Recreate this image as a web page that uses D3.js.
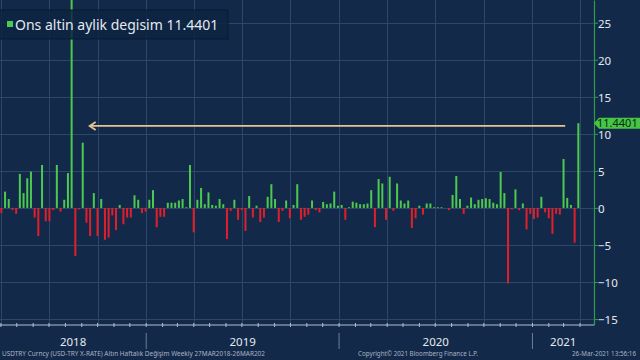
<!DOCTYPE html>
<html><head><meta charset="utf-8">
<script src="https://cdn.jsdelivr.net/npm/d3@7"></script>
<style>html,body{margin:0;padding:0;background:#13294a;} svg{display:block;}</style>
</head><body><svg id="c" width="640" height="360"></svg>
<script>
// ---- data ----
const seriesName = "Ons altin aylik degisim";
const lastValue = 11.4401;
const firstWeek = "2018-03-30";
const weeklyChange = [
 -0.7, 2.2, 1.2, -0.3, -0.8, 4.6, 2.0, 4.0, 4.9, -1.3,
 -3.8, 5.8, -1.8, -1.8, -0.3, 5.8, -0.5, 1.1, 4.7, 28.2,
 -6.5, -0.2, 8.8, -2.0, -3.8, 2.0, -3.8, 1.2, -4.3, -4.0,
 -1.0, -3.0, 0.4, -2.2, -1.3, -1.3, 1.7, 1.1, -0.7, -0.5,
 1.1, 2.4, -2.6, -1.2, -1.2, 0.7, 0.7, 0.7, 1.0, 1.2,
 0.1, 5.8, -3.3, 1.1, 2.7, 0.5, 2.1, 0.4, 0.3, 1.2,
 0.5, -4.2, -0.4, 1.1, -1.6, -0.3, -3.1, 1.6, -1.3, 0.3,
 -1.9, -1.3, 1.5, 3.2, 1.2, -1.9, -0.4, 1.0, -1.4, 0.4,
 3.2, -1.6, -1.2, -0.9, 1.0, -0.3, -0.6, 0.8, 0.5, 0.6,
 2.2, 0.3, 0.4, -1.6, 0.1, 0.85, 0.7, 0.5, 0.5, 0.6,
 2.4, -2.6, 3.9, 3.3, -1.6, 4.2, -0.4, 3.3, 1.0, 0.6,
 1.0, -2.7, -1.4, 0.3, -0.9, 0.6, 0.6, 0.1, 0.1, 0.1,
 0.0, -0.3, 1.75, 4.3, 1.2, -0.8, 0.3, 1.4, 0.5, 1.1,
 1.2, 1.3, 1.2, 0.7, 0.5, 4.85, 2.0, -10.2, -0.2, 2.5,
 -0.3, 0.6, -2.9, -0.8, -1.5, -1.3, 1.5, -0.6, -1.4, -3.5,
 -0.8, -0.9, 6.6, 1.35, 0.4, -4.7, 11.4401
];
const yTicks = [-15, -10, -5, 0, 5, 10, 15, 20, 25];
const yMinorStep = 2.5;
const yearLabels = ["2018", "2019", "2020", "2021"];
const footerLeft = "USDTRY Curncy (USD-TRY X-RATE) Altın Haftalık Değişim  Weekly 27MAR2018-26MAR202";
const footerMid = "Copyright© 2021 Bloomberg Finance L.P.";
const footerRight = "26-Mar-2021 13:56:16";
const arrowLevel = 11.07;
const arrowFrom = "2021-03-04";
const arrowTo = "2018-09-16";

// ---- layout ----
const W = 640, H = 360, plotR = 594, plotB = 325;
const C = {bg:"#13294a", grid:"#2d4769", up:"#4cc94f", down:"#e01f2b",
           axisG:"#2f9d48", text:"#e4e9ef", foot:"#a9b3c1", arrow:"#e6c48e"};
const font = "'Noto Sans', 'DejaVu Sans', sans-serif";

const parse = d3.utcParse("%Y-%m-%d");
const start = parse(firstWeek);
const data = weeklyChange.map((v, i) => ({date: d3.utcDay.offset(start, 7 * i), v}));

const x = d3.scaleUtc().domain([Date.UTC(2018, 6, 1), Date.UTC(2021, 3, 1)]).range([49, 580]);
const y = d3.scaleLinear().domain([-15.8, 28.06]).range([plotB, 0]);

const svg = d3.select("#c");
svg.append("rect").attr("width", W).attr("height", H).attr("fill", C.bg);
svg.append("clipPath").attr("id", "pc").append("rect").attr("width", plotR).attr("height", plotB);

// grid
const g = svg.append("g").attr("clip-path", "url(#pc)");
const quarterTicks = d3.utcMonth.every(3).range(x.invert(0), x.invert(plotR));
g.selectAll(".vg").data(quarterTicks).join("line")
  .attr("x1", d => Math.round(x(d)) + 0.5).attr("x2", d => Math.round(x(d)) + 0.5)
  .attr("y1", 0).attr("y2", plotB).attr("stroke", C.grid).attr("stroke-width", 1);
g.selectAll(".hg").data(yTicks).join("line")
  .attr("x1", 0).attr("x2", plotR)
  .attr("y1", d => Math.round(y(d)) + 0.5).attr("y2", d => Math.round(y(d)) + 0.5)
  .attr("stroke", C.grid).attr("stroke-width", 1);

// legend box (under bars)
svg.append("rect").attr("x", -1).attr("y", 10).attr("width", 229).attr("height", 29)
  .attr("fill", "#0e2342").attr("fill-opacity", 0.85).attr("stroke", "#0a1a31").attr("stroke-width", 1);

// bars
g.selectAll(".bar").data(data).join("rect")
  .attr("x", d => x(d.date) + 0.5)
  .attr("width", 2)
  .attr("y", d => y(Math.max(0, d.v)))
  .attr("height", d => Math.abs(y(d.v) - y(0)))
  .attr("fill", d => d.v >= 0 ? C.up : C.down);

// legend text
svg.append("rect").attr("x", 7).attr("y", 21).attr("width", 6).attr("height", 6).attr("fill", C.up);
svg.append("text").attr("x", 15).attr("y", 29.5)
  .attr("font-family", font).attr("font-size", 14).attr("fill", C.text)
  .text(seriesName + " " + d3.format(".4f")(lastValue));

// arrow annotation
const ay = y(arrowLevel);
const ax0 = x(parse(arrowFrom)), ax1 = x(parse(arrowTo));
svg.append("line").attr("x1", ax0).attr("x2", ax1).attr("y1", ay).attr("y2", ay)
  .attr("stroke", C.arrow).attr("stroke-width", 1.8);
svg.append("path").attr("d", `M${ax1 + 6},${ay - 4}L${ax1},${ay}L${ax1 + 6},${ay + 4}`)
  .attr("fill", "none").attr("stroke", C.arrow).attr("stroke-width", 1.8);

// right axis
const ra = svg.append("g").attr("transform", `translate(${plotR},0)`);
ra.call(d3.axisRight(y).tickValues(d3.range(-15, 28, yMinorStep)).tickSize(2).tickSizeOuter(0).tickFormat(""));
ra.call(d3.axisRight(y).tickValues(yTicks).tickSize(4).tickSizeOuter(0).tickPadding(0));
ra.selectAll("path.domain").attr("stroke", C.axisG).attr("stroke-width", 1.2);
ra.selectAll("line").attr("stroke", C.axisG);
ra.selectAll("text").attr("fill", C.text).attr("font-family", font).attr("font-size", 11.5)
  .attr("dy", "0.4em");

// value label on axis
const vy = y(lastValue);
svg.append("path")
  .attr("d", `M${plotR},${vy}L${plotR + 5},${vy - 5.5}H${W}V${vy + 5.5}H${plotR + 5}Z`)
  .attr("fill", "#46c546");
svg.append("text").attr("x", 597).attr("y", vy + 4)
  .attr("font-family", font).attr("font-size", 11).attr("fill", "#0b2a10")
  .text(d3.format(".4f")(lastValue));

// bottom axis
const ba = svg.append("g").attr("transform", `translate(0,${plotB})`);
ba.append("line").attr("x1", 0).attr("x2", plotR).attr("stroke", "#b4bfcc").attr("stroke-width", 1);
const months = d3.utcMonth.every(1).range(x.invert(0), x.invert(plotR));
ba.selectAll(".mt").data(months).join("line")
  .attr("x1", d => x(d)).attr("x2", d => x(d)).attr("y1", -2).attr("y2", 2)
  .attr("stroke", "#b4bfcc");

// year labels and dividers
const yearStarts = yearLabels.map(s => Date.UTC(+s, 0, 1));
const bounds = yearStarts.map((d, i) => i === 0 ? 0 : x(d));
bounds.push(plotR);
svg.selectAll(".yl").data(yearLabels).join("text")
  .attr("x", (d, i) => (bounds[i] + bounds[i + 1]) / 2).attr("y", 345.5)
  .attr("text-anchor", "middle").attr("font-family", font).attr("font-size", 11.5)
  .attr("fill", C.text).text(d => d);
svg.selectAll(".yd").data(yearStarts.slice(1)).join("line")
  .attr("x1", d => x(d)).attr("x2", d => x(d)).attr("y1", 333).attr("y2", 349)
  .attr("stroke", "#6f7f94");

// footer
const foot = (t, xx, len) => svg.append("text").attr("x", xx).attr("y", 356)
  .attr("font-family", font).attr("font-size", 6.5).attr("fill", C.foot)
  .attr("textLength", len).attr("lengthAdjust", "spacingAndGlyphs").text(t);
foot(footerLeft, 2, 263);
foot(footerMid, 358, 120);
foot(footerRight, 572, 64);
</script></body></html>
